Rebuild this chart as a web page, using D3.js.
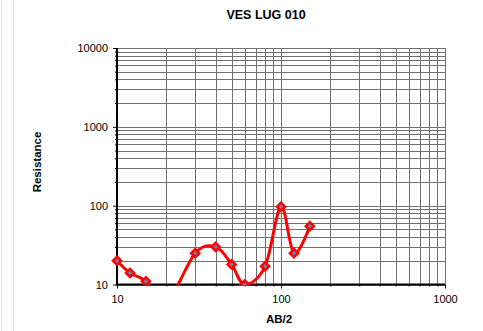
<!DOCTYPE html>
<html><head><meta charset="utf-8">
<script src="https://cdn.jsdelivr.net/npm/d3@7"></script>
<style>
html,body{margin:0;padding:0;background:#fff;}
svg{display:block;font-family:"Liberation Sans",Arial,sans-serif;}
</style></head>
<body><svg id="c" width="483" height="331"></svg>
<script>
const chartTitle = "VES LUG 010";
const xLabel = "AB/2";
const yLabel = "Resistance";
const abHalf = [10, 12, 15, 20, 30, 40, 50, 60, 80, 100, 120, 150];
const resistance = [20, 14, 11, 6, 25, 30, 18, 10, 17, 97, 25, 55];
const xTickValues = [10, 100, 1000];
const yTickValues = [10, 100, 1000, 10000];

const svg = d3.select("#c");
const L = 117, R = 445, T = 48, B = 284.5;
const x = d3.scaleLog().domain([10, 1000]).range([L, R]);
const y = d3.scaleLog().domain([10, 10000]).range([B, T]);

// page edge lines
svg.append("line").attr("x1",1.5).attr("x2",1.5).attr("y1",0).attr("y2",331).attr("stroke","#e2e2e2");
svg.append("line").attr("x1",13.5).attr("x2",13.5).attr("y1",0).attr("y2",331).attr("stroke","#e2e2e2");

function minors(lo, hi){ const a=[]; for(let d=lo; d<hi; d*=10){ for(let k=1;k<=10;k++){ a.push(d*k);} } return Array.from(new Set(a)); }
const xGrid = minors(10, 1000);
const yGrid = minors(10, 10000);

const g = svg.append("g");
g.selectAll("line.vg").data(xGrid).join("line")
  .attr("x1", d=>Math.round(x(d))+0.5).attr("x2", d=>Math.round(x(d))+0.5)
  .attr("y1", T).attr("y2", B)
  .attr("stroke", "#707070").attr("stroke-width", 1);
g.selectAll("line.hg").data(yGrid).join("line")
  .attr("y1", d=>Math.round(y(d))+0.5).attr("y2", d=>Math.round(y(d))+0.5)
  .attr("x1", L).attr("x2", R)
  .attr("stroke", "#707070").attr("stroke-width", 1);

const yAxis = d3.axisLeft(y).tickValues(yGrid).tickSize(4).tickFormat(d => yTickValues.includes(d) ? d3.format("d")(d) : "");
const ya = svg.append("g").attr("transform", `translate(${L},0)`).call(yAxis);
ya.select(".domain").remove();
ya.selectAll(".tick line").attr("stroke","#000").attr("x2", d => yTickValues.includes(d) ? -4 : -2);
ya.selectAll(".tick text").attr("font-size", 11).attr("font-family","Liberation Sans, Arial, sans-serif").attr("fill","#000").attr("x",-9);

const xAxis = d3.axisBottom(x).tickValues(xGrid).tickSize(4).tickFormat(d => xTickValues.includes(d) ? d3.format("d")(d) : "");
const xa = svg.append("g").attr("transform", `translate(0,${B})`).call(xAxis);
xa.select(".domain").remove();
xa.selectAll(".tick line").attr("stroke","#000").attr("y2", d => xTickValues.includes(d) ? 4 : 2);
xa.selectAll(".tick text").attr("font-size", 11).attr("font-family","Liberation Sans, Arial, sans-serif").attr("fill","#000").attr("y",11);

svg.append("line").attr("x1", L).attr("x2", L).attr("y1", T).attr("y2", B+1).attr("stroke","#000").attr("stroke-width",2);
svg.append("line").attr("x1", L-1).attr("x2", R).attr("y1", B).attr("y2", B).attr("stroke","#000").attr("stroke-width",2);

svg.append("clipPath").attr("id","clip").append("rect").attr("x", L-8).attr("y", T-6).attr("width", R-L+14).attr("height", B-T+7);

const pts = abHalf.map((v,i)=>[v, resistance[i]]);
const line = d3.line().x(d=>x(d[0])).y(d=>y(d[1])).curve(d3.curveCardinal.tension(0));
const cg = svg.append("g").attr("clip-path","url(#clip)");
cg.append("path").datum(pts).attr("d", line).attr("fill","none").attr("stroke","#ff0000").attr("stroke-width",3).attr("stroke-linejoin","round");
const sym = d3.symbol().type(d3.symbolDiamond2).size(42);
cg.selectAll("path.m").data(pts.filter(d=>d[1]>=10)).join("path")
  .attr("transform", d=>`translate(${x(d[0])},${y(d[1])})`)
  .attr("d", sym).attr("fill","#6f7fa8").attr("stroke","#ff0000").attr("stroke-width",2.5);

svg.append("text").attr("x", 266).attr("y", 19).attr("text-anchor","middle").attr("font-size",12.5).attr("font-weight","bold").text(chartTitle);
svg.append("text").attr("x", 279).attr("y", 323).attr("text-anchor","middle").attr("font-size",11.5).attr("font-weight","bold").text(xLabel);
svg.append("text").attr("transform","translate(41,162) rotate(-90)").attr("text-anchor","middle").attr("font-size",11.5).attr("font-weight","bold").text(yLabel);
</script></body></html>
